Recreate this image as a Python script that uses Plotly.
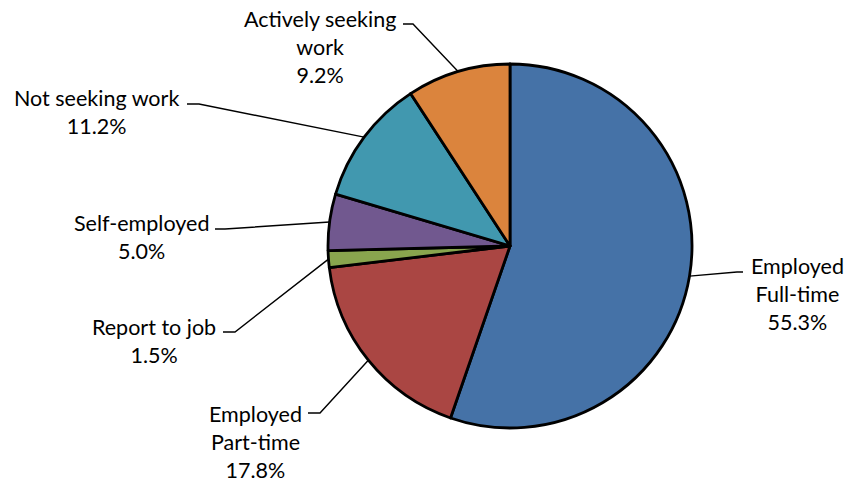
import numpy as np
import plotly.graph_objects as go

# Employment status shares (percent), clockwise from 12 o'clock
categories = ["Employed Full-time", "Employed Part-time", "Report to job",
              "Self-employed", "Not seeking work", "Actively seeking work"]
label_text = ["Employed<br>Full-time", "Employed<br>Part-time", "Report to job",
              "Self-employed", "Not seeking work", "Actively seeking<br>work"]
shares = [55.3, 17.8, 1.5, 5.0, 11.2, 9.2]
colors = ["#4572A7", "#AA4643", "#89A54E", "#71588F", "#4198AF", "#DB843D"]

# Figure geometry (pixels)
W, H = 846, 483
CX, CY, R = 510, 246, 182

# Label block centres, leader elbows and leader starts next to the text (pixels)
label_xy = [(797, 294), (255, 442), (154, 341), (141, 237), (96, 112), (320, 47)]
elbow_xy = [(737, 272), (320, 413), (235, 332), (225, 229), (199, 104), (413, 24)]
start_xy = [(743, 272), (308, 413), (223, 332), (215, 229), (187, 104), (403, 24)]


def px(x):
    return x / W


def py(y):
    return 1 - y / H


fig = go.Figure(go.Pie(
    labels=categories,
    values=shares,
    sort=False,
    direction="clockwise",
    rotation=0,
    textinfo="none",
    hoverinfo="label+percent",
    marker=dict(colors=colors, line=dict(color="#000000", width=2.8)),
    domain=dict(x=[px(CX - R), px(CX + R)], y=[py(CY + R), py(CY - R)]),
    showlegend=False,
))

# Leader lines run from each label to the rim at the slice's mid-angle
vals = np.array(shares, dtype=float)
mid_deg = (np.cumsum(vals) - vals / 2) / vals.sum() * 360.0
shapes = []
annotations = []
for i, ang in enumerate(np.radians(mid_deg)):
    ex = CX + R * np.sin(ang)
    ey = CY - R * np.cos(ang)
    sx, sy = start_xy[i]
    kx, ky = elbow_xy[i]
    path = (f"M {px(sx)},{py(sy)} L {px(kx)},{py(ky)} L {px(ex)},{py(ey)}")
    shapes.append(dict(type="path", xref="paper", yref="paper", path=path,
                       line=dict(color="#000000", width=1.4)))
    lx, ly = label_xy[i]
    annotations.append(dict(
        x=px(lx), y=py(ly), xref="paper", yref="paper",
        text=f"{label_text[i]}<br>{shares[i]:.1f}%",
        showarrow=False, xanchor="center", yanchor="middle", align="center",
        font=dict(family="Lato, 'Open Sans', sans-serif", size=21.5, color="#000000"),
    ))

fig.update_layout(
    width=W, height=H,
    margin=dict(l=0, r=0, t=0, b=0),
    paper_bgcolor="#FFFFFF",
    plot_bgcolor="#FFFFFF",
    shapes=shapes,
    annotations=annotations,
)

fig.write_html("out.html")
